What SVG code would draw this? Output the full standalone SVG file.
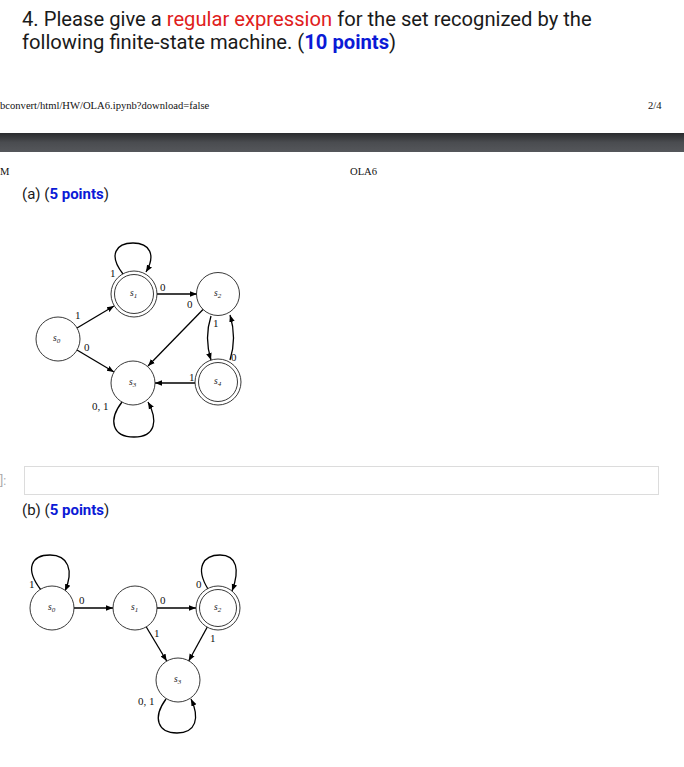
<svg xmlns="http://www.w3.org/2000/svg" width="684" height="767" viewBox="0 0 684 767">
<defs>
<linearGradient id="bar" x1="0" y1="0" x2="0" y2="1">
<stop offset="0" stop-color="#2a2b2e"/>
<stop offset="0.5" stop-color="#4a4c50"/>
<stop offset="1" stop-color="#55575b"/>
</linearGradient>
<marker id="ah" viewBox="0 0 10 10" refX="10" refY="5" markerWidth="7" markerHeight="7" markerUnits="userSpaceOnUse" orient="auto">
<path d="M0,1 L10,5 L0,9 z" fill="#000"/>
</marker>
</defs>
<style>
.title{font-family:Roboto,"Liberation Sans",sans-serif;font-size:20.2px;fill:#1a1a1a}
.sub{font-family:Roboto,"Liberation Sans",sans-serif;font-size:15px;fill:#1a1a1a}
.red{fill:#e0201c}
.blue{fill:#0b1ad6;font-weight:bold}
.hdr{font-family:"Liberation Serif",serif;font-size:10.6px;fill:#111}
.st{fill:#fff;stroke:#222;stroke-width:0.9}
.nl{font-family:"Liberation Serif",serif;font-style:italic;font-size:9.5px;fill:#222}
.el{font-family:"Liberation Serif",serif;font-size:11px;fill:#111}
.e{fill:none;stroke:#000;stroke-width:1.3;marker-end:url(#ah)}
</style>
<rect width="684" height="767" fill="#fff"/>
<text class="title" x="22" y="26">4. Please give a <tspan class="red">regular expression</tspan> for the set recognized by the</text>
<text class="title" x="22" y="48.5">following finite-state machine. (<tspan class="blue">10 points</tspan>)</text>
<text class="hdr" x="0" y="109">bconvert/html/HW/OLA6.ipynb?download=false</text>
<text class="hdr" x="648" y="109">2/4</text>
<rect x="0" y="133" width="684" height="19" fill="url(#bar)"/>
<text class="hdr" x="0" y="175">M</text>
<text class="hdr" x="350" y="175">OLA6</text>
<text class="sub" x="22" y="199">(a) (<tspan class="blue">5 points</tspan>)</text>
<text x="0" y="485" style="font-family:Roboto,sans-serif;font-size:12px;fill:#aaa">]:</text>
<rect x="24.5" y="466.5" width="634" height="28" fill="#fff" stroke="#dcdcdc"/>
<text class="sub" x="22" y="515">(b) (<tspan class="blue">5 points</tspan>)</text>

<g id="connectors-a">
<path class="e" d="M123,274 C108,255 116,243 133,243 C150,243 156,255 146,272"/>
<path class="e" d="M157,294 L197,294"/>
<path class="e" d="M77,328 L114,306"/>
<path class="e" d="M77,350 L114,372"/>
<path class="e" d="M203.5,309 L148,366"/>
<path class="e" d="M211,316 Q204,338 211,360"/>
<path class="e" d="M230,360 Q237,338 230,315"/>
<path class="e" d="M195,383 L155,383"/>
<path class="e" d="M122,402 C108,420 112,437 134,437 C156,437 158,420 148,402"/>
<text class="el" x="110" y="277">1</text>
<text class="el" x="160" y="291">0</text>
<text class="el" x="187" y="308">0</text>
<text class="el" x="75" y="319">1</text>
<text class="el" x="84" y="351">0</text>
<text class="el" x="213" y="327">1</text>
<text class="el" x="231" y="361">0</text>
<text class="el" x="189" y="381">1</text>
<text class="el" x="92" y="410">0, 1</text>
</g>
<g id="a-s0"><circle class="st" cx="58" cy="339" r="22"/><text class="nl" x="53" y="341">s<tspan font-size="7" dy="2">0</tspan></text></g>
<g id="a-s1"><circle class="st" cx="134" cy="294" r="23"/><circle class="st" cx="134" cy="294" r="19.5"/><text class="nl" x="130" y="296">s<tspan font-size="7" dy="2">1</tspan></text></g>
<g id="a-s2"><circle class="st" cx="218" cy="294" r="21.5"/><text class="nl" x="214" y="296">s<tspan font-size="7" dy="2">2</tspan></text></g>
<g id="a-s3"><circle class="st" cx="133" cy="383" r="22"/><text class="nl" x="129" y="385">s<tspan font-size="7" dy="2">3</tspan></text></g>
<g id="a-s4"><circle class="st" cx="218" cy="382" r="23"/><circle class="st" cx="218" cy="382" r="19.5"/><text class="nl" x="214" y="384">s<tspan font-size="7" dy="2">4</tspan></text></g>

<g id="connectors-b">
<path class="e" d="M41,590 C24,568 32,555 50,555 C68,555 74,570 65,591"/>
<path class="e" d="M74,608 L113,608"/>
<path class="e" d="M157,608 L196,608"/>
<path class="e" d="M208,589 C195,568 203,555 220,555 C237,555 240,570 232,591"/>
<path class="e" d="M146.3,627 L166.7,661"/>
<path class="e" d="M207.3,627 L188.7,661"/>
<path class="e" d="M166,699 C152,718 158,733 177,733 C196,733 200,718 191,699"/>
<text class="el" x="29" y="588">1</text>
<text class="el" x="79" y="604">0</text>
<text class="el" x="160" y="604">0</text>
<text class="el" x="196" y="588">0</text>
<text class="el" x="154" y="637">1</text>
<text class="el" x="210" y="642">1</text>
<text class="el" x="138" y="705">0, 1</text>
</g>
<g id="b-s0"><circle class="st" cx="52" cy="608" r="22"/><text class="nl" x="48" y="610">s<tspan font-size="7" dy="2">0</tspan></text></g>
<g id="b-s1"><circle class="st" cx="135" cy="608" r="22"/><text class="nl" x="131" y="610">s<tspan font-size="7" dy="2">1</tspan></text></g>
<g id="b-s2"><circle class="st" cx="218" cy="608" r="22"/><circle class="st" cx="218" cy="608" r="18.5"/><text class="nl" x="214" y="610">s<tspan font-size="7" dy="2">2</tspan></text></g>
<g id="b-s3"><circle class="st" cx="178" cy="680" r="22"/><text class="nl" x="174" y="682">s<tspan font-size="7" dy="2">3</tspan></text></g>
</svg>
